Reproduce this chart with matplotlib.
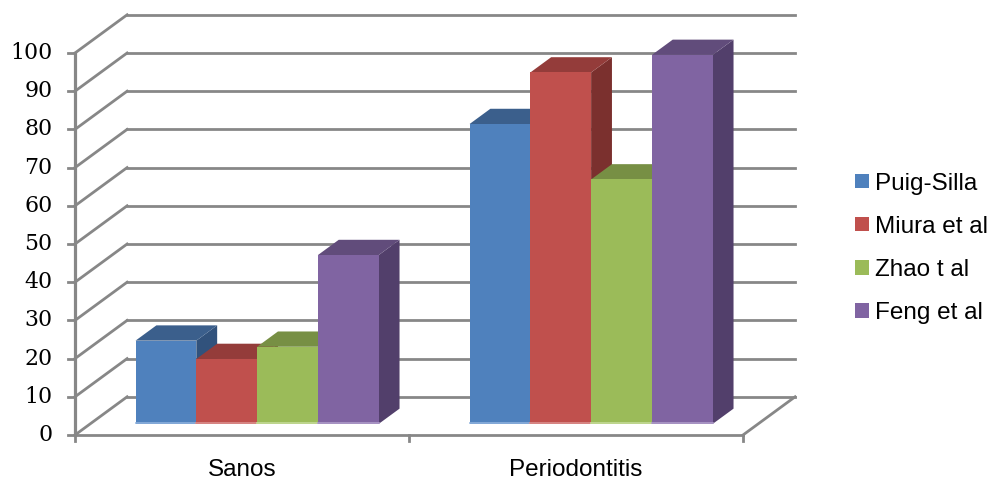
import matplotlib.pyplot as plt
from matplotlib.patches import Polygon, Patch

# data
categories = ['Sanos', 'Periodontitis']
series = ['Puig-Silla', 'Miura et al', 'Zhao t al', 'Feng et al']
puig_silla = [21.8, 78.5]
miura = [17.0, 92.0]
zhao = [20.2, 64.0]
feng = [44.2, 96.6]
values = [puig_silla, miura, zhao, feng]
yticks = list(range(0, 101, 10))

# front, top and side colours of each series
front_cols = ['#4F81BD', '#C0504D', '#9BBB59', '#8064A2']
top_cols = ['#3B5F8C', '#943C3A', '#778F44', '#614C7B']
side_cols = ['#31527C', '#7B302E', '#64783A', '#523F6B']
base_cols = ['#8DB0DD', '#DB8F8D', '#C4DB98', '#AE9CC9']

# oblique depth of the box (x in category units, y in value units)
DX = 0.156
DY = 10.0
f0, f1 = 0.29, 0.69   # depth range taken by the bars
w = 0.182             # bar width
grid = '#878787'

fig = plt.figure(figsize=(9.92, 4.82), dpi=100)
ax = fig.add_axes([75 / 992, 47 / 482, 668 / 992, 382 / 482])
ax.set_xlim(0, len(categories))
ax.set_ylim(0, 100)
ax.axis('off')

lw = 2.0
# walls: left diagonals and back gridlines
for v in yticks:
    ax.plot([0, DX], [v, v + DY], color=grid, lw=lw, clip_on=False, zorder=1)
    ax.plot([DX, len(categories) + DX], [v + DY, v + DY], color=grid, lw=lw,
            clip_on=False, zorder=1)
    # y tick marks
    ax.plot([-0.021, 0], [v, v], color=grid, lw=lw, clip_on=False, zorder=1)
    ax.text(-0.068, v, str(v), ha='right', va='center', fontsize=15.8,
            family='DejaVu Serif', color='black')

# floor and front axis
n = len(categories)
ax.plot([0, 0], [0, 100], color=grid, lw=2.3, clip_on=False, zorder=1)
ax.plot([0, n], [0, 0], color=grid, lw=lw, clip_on=False, zorder=1)
ax.plot([n, n + DX], [0, DY], color=grid, lw=lw, clip_on=False, zorder=1)
for i in range(n + 1):
    ax.plot([i, i], [0, -1.7], color=grid, lw=lw, clip_on=False, zorder=1)

# bars, drawn left to right so later fronts hide earlier sides
z = 3
for i in range(n):
    for j in range(len(series)):
        v = values[j][i]
        x0 = i + 0.5 - 2 * w + j * w
        x1 = x0 + w
        side = [(x1 + f0 * DX, f0 * DY), (x1 + f1 * DX, f1 * DY),
                (x1 + f1 * DX, v + f1 * DY), (x1 + f0 * DX, v + f0 * DY)]
        top = [(x0 + f0 * DX, v + f0 * DY), (x1 + f0 * DX, v + f0 * DY),
               (x1 + f1 * DX, v + f1 * DY), (x0 + f1 * DX, v + f1 * DY)]
        front = [(x0 + f0 * DX, f0 * DY), (x1 + f0 * DX, f0 * DY),
                 (x1 + f0 * DX, v + f0 * DY), (x0 + f0 * DX, v + f0 * DY)]
        ax.add_patch(Polygon(side, closed=True, fc=side_cols[j], ec='none',
                             clip_on=False, zorder=z))
        ax.add_patch(Polygon(top, closed=True, fc=top_cols[j], ec='none',
                             clip_on=False, zorder=z))
        ax.add_patch(Polygon(front, closed=True, fc=front_cols[j], ec='none',
                             clip_on=False, zorder=z))
        ax.plot([x0 + f0 * DX, x1 + f0 * DX], [f0 * DY + 0.3, f0 * DY + 0.3],
                color=base_cols[j], lw=1.2, clip_on=False, zorder=z + 0.5)
        z += 1

# category labels
for i, c in enumerate(categories):
    ax.text(i + 0.5, -9.2, c, ha='center', va='center', fontsize=17.5,
            family='Liberation Sans', color='black')

handles = [Patch(fc=front_cols[j], ec='none', label=series[j])
           for j in range(len(series))]
fig.legend(handles=handles, loc='center left', bbox_to_anchor=(843 / 992, 0.485),
           frameon=False, prop={'family': 'Liberation Sans', 'size': 17.5},
           handlelength=0.55, handleheight=0.55, handletextpad=0.25,
           labelspacing=0.87, borderpad=0)

fig.savefig('out.png', dpi=100)
